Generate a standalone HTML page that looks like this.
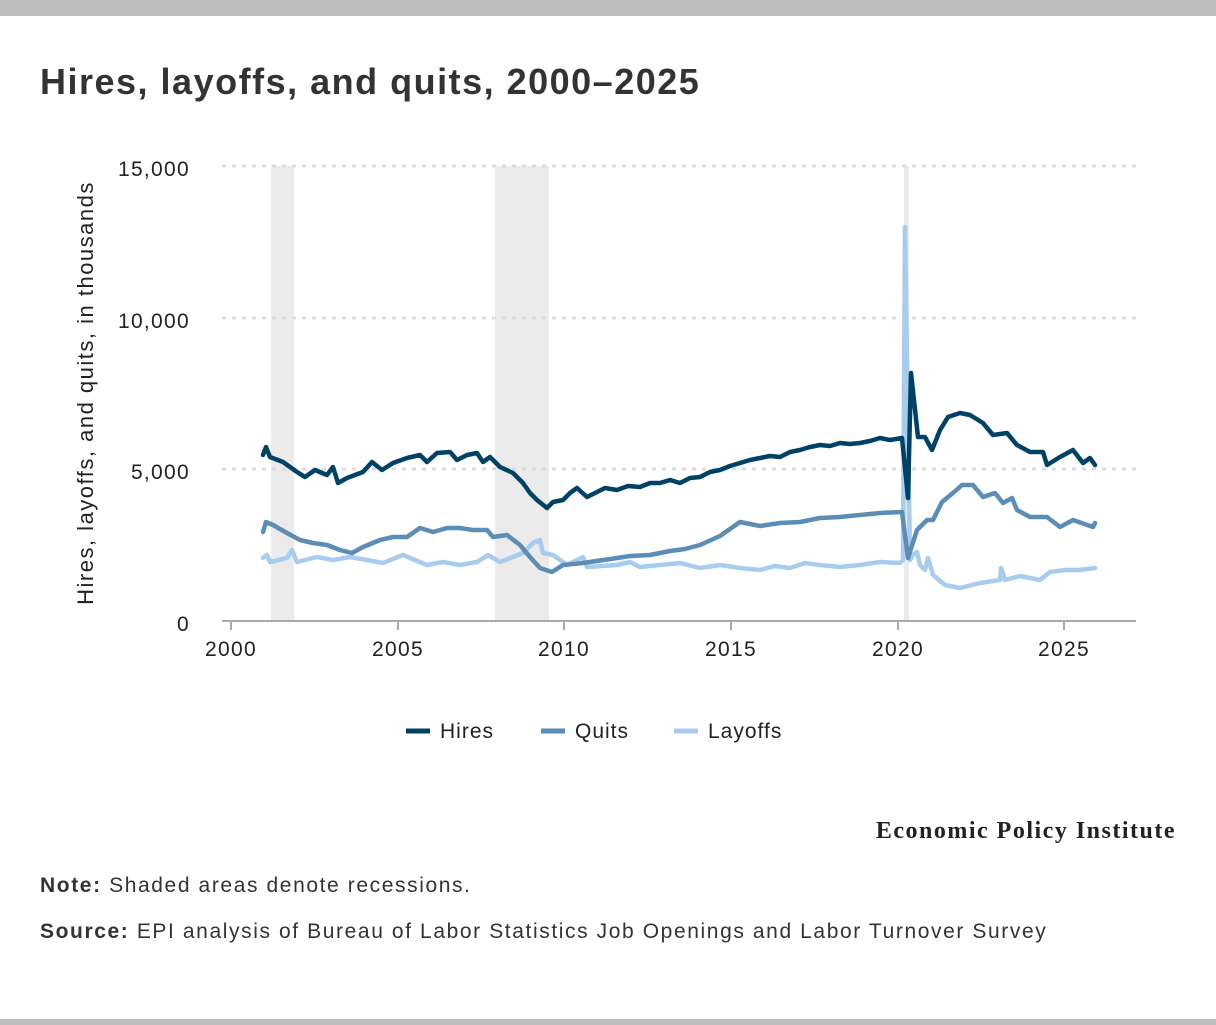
<!DOCTYPE html>
<html><head><meta charset="utf-8"><style>
body{margin:0;width:1216px;height:1025px;background:#fff;font-family:"Liberation Sans",sans-serif;color:#333;position:relative;overflow:hidden}
.bar{position:absolute;left:0;width:1216px;background:#bdbdbd}
</style></head><body>
<div class="bar" style="top:0;height:16px"></div>
<div class="bar" style="top:1019px;height:6px"></div>
<div style="position:absolute;left:40px;top:61px;font-size:36px;letter-spacing:1.5px;font-weight:bold;color:#333">Hires, layoffs, and quits, 2000–2025</div>
<svg width="1216" height="1025" style="position:absolute;left:0;top:0">
<g fill="#ebebeb"><rect x="271" y="166" width="23" height="455"/><rect x="495" y="166" width="54" height="455"/><rect x="904" y="166" width="5" height="455"/></g>
<g stroke="#dcdcdc" stroke-width="3" stroke-dasharray="4,6"><line x1="222" y1="166" x2="1136" y2="166"/><line x1="222" y1="318" x2="1136" y2="318"/><line x1="222" y1="469" x2="1136" y2="469"/></g>
<line x1="222" y1="621" x2="1136" y2="621" stroke="#aaa" stroke-width="2"/>
<g stroke="#aaa" stroke-width="2"><line x1="231" y1="621" x2="231" y2="630"/><line x1="398" y1="621" x2="398" y2="630"/><line x1="564" y1="621" x2="564" y2="630"/><line x1="731" y1="621" x2="731" y2="630"/><line x1="898" y1="621" x2="898" y2="630"/><line x1="1064" y1="621" x2="1064" y2="630"/></g>
<g font-size="21" fill="#222" text-anchor="end" letter-spacing="1.3"><text x="190" y="176">15,000</text><text x="190" y="328">10,000</text><text x="190" y="479">5,000</text><text x="190" y="631">0</text></g>
<g font-size="21" fill="#222" text-anchor="middle" letter-spacing="1.3"><text x="231" y="656">2000</text><text x="398" y="656">2005</text><text x="564" y="656">2010</text><text x="731" y="656">2015</text><text x="898" y="656">2020</text><text x="1064" y="656">2025</text></g>
<text transform="translate(93,393) rotate(-90)" font-size="22" letter-spacing="1.5" fill="#222" text-anchor="middle">Hires, layoffs, and quits, in thousands</text>
<g fill="none" stroke-width="4.5" stroke-linejoin="round" stroke-linecap="round">
<polyline stroke="#a8ccee" points="263,558 267,555 270,562 287,558 292,550 297,562 317,557 333,560 350,557 367,560 383,563 403,555 427,565 443,562 460,565 477,562 488,555 500,562 513,557 523,553 533,543 540,540 543,553 553,555 567,565 583,557 587,567 617,565 630,562 640,567 660,565 680,563 700,568 720,565 740,568 760,570 775,566 790,568 805,563 820,565 840,567 860,565 880,562 900,563 903,560 905,227 910,560 913,555 917,552 920,565 925,570 928,558 933,575 945,585 960,588 980,583 1000,580 1001,568 1005,580 1020,576 1040,580 1050,572 1065,570 1080,570 1095,568"/>
<polyline stroke="#5b8db5" points="263,532 266,522 273,525 287,533 300,540 313,543 327,545 340,550 352,553 363,547 380,540 393,537 407,537 420,528 433,532 447,528 460,528 473,530 487,530 493,537 507,535 520,545 530,557 540,568 552,572 563,565 583,563 617,558 630,556 650,555 670,551 685,549 700,545 720,536 740,522 760,526 780,523 800,522 820,518 840,517 860,515 880,513 902,512 908,558 917,530 927,520 933,520 942,502 953,493 962,485 973,485 983,497 995,493 1003,503 1012,498 1017,510 1030,517 1047,517 1060,527 1073,520 1093,527 1095,523"/>
<polyline stroke="#004266" points="263,455 266,447 270,457 283,462 297,472 305,477 315,470 327,475 333,467 338,483 347,478 363,472 372,462 382,470 393,463 407,458 420,455 427,462 437,453 450,452 457,460 467,455 477,453 483,462 490,457 500,467 513,473 523,483 530,493 537,500 547,508 553,502 563,500 570,493 577,488 587,497 597,492 605,488 617,490 628,486 640,487 650,483 660,483 670,480 680,483 690,478 700,477 710,472 720,470 730,466 740,463 750,460 760,458 770,456 780,457 790,452 800,450 810,447 820,445 830,446 840,443 850,444 860,443 870,441 880,438 890,440 902,438 908,498 911,373 918,437 925,437 932,450 940,430 948,417 960,413 970,415 983,423 993,435 1007,433 1017,445 1030,452 1043,452 1047,465 1060,457 1073,450 1083,463 1090,458 1095,465"/>
</g>
<g font-size="21" fill="#222" letter-spacing="1">
<line x1="406" y1="731" x2="430" y2="731" stroke="#004266" stroke-width="5"/><text x="440" y="738">Hires</text>
<line x1="541" y1="731" x2="565" y2="731" stroke="#5b8db5" stroke-width="5"/><text x="575" y="738">Quits</text>
<line x1="674" y1="731" x2="698" y2="731" stroke="#a8ccee" stroke-width="5"/><text x="708" y="738">Layoffs</text>
</g>
<text x="1176" y="838" text-anchor="end" font-family="Liberation Serif,serif" font-weight="bold" font-size="24" letter-spacing="1.5" fill="#222">Economic Policy Institute</text>
</svg>
<div style="position:absolute;left:40px;top:874px;font-size:21px;letter-spacing:1.6px;color:#333"><b>Note:</b> Shaded areas denote recessions.</div>
<div style="position:absolute;left:40px;top:920px;font-size:21px;letter-spacing:1.6px;color:#333"><b>Source:</b> EPI analysis of Bureau of Labor Statistics Job Openings and Labor Turnover Survey</div>
</body></html>
